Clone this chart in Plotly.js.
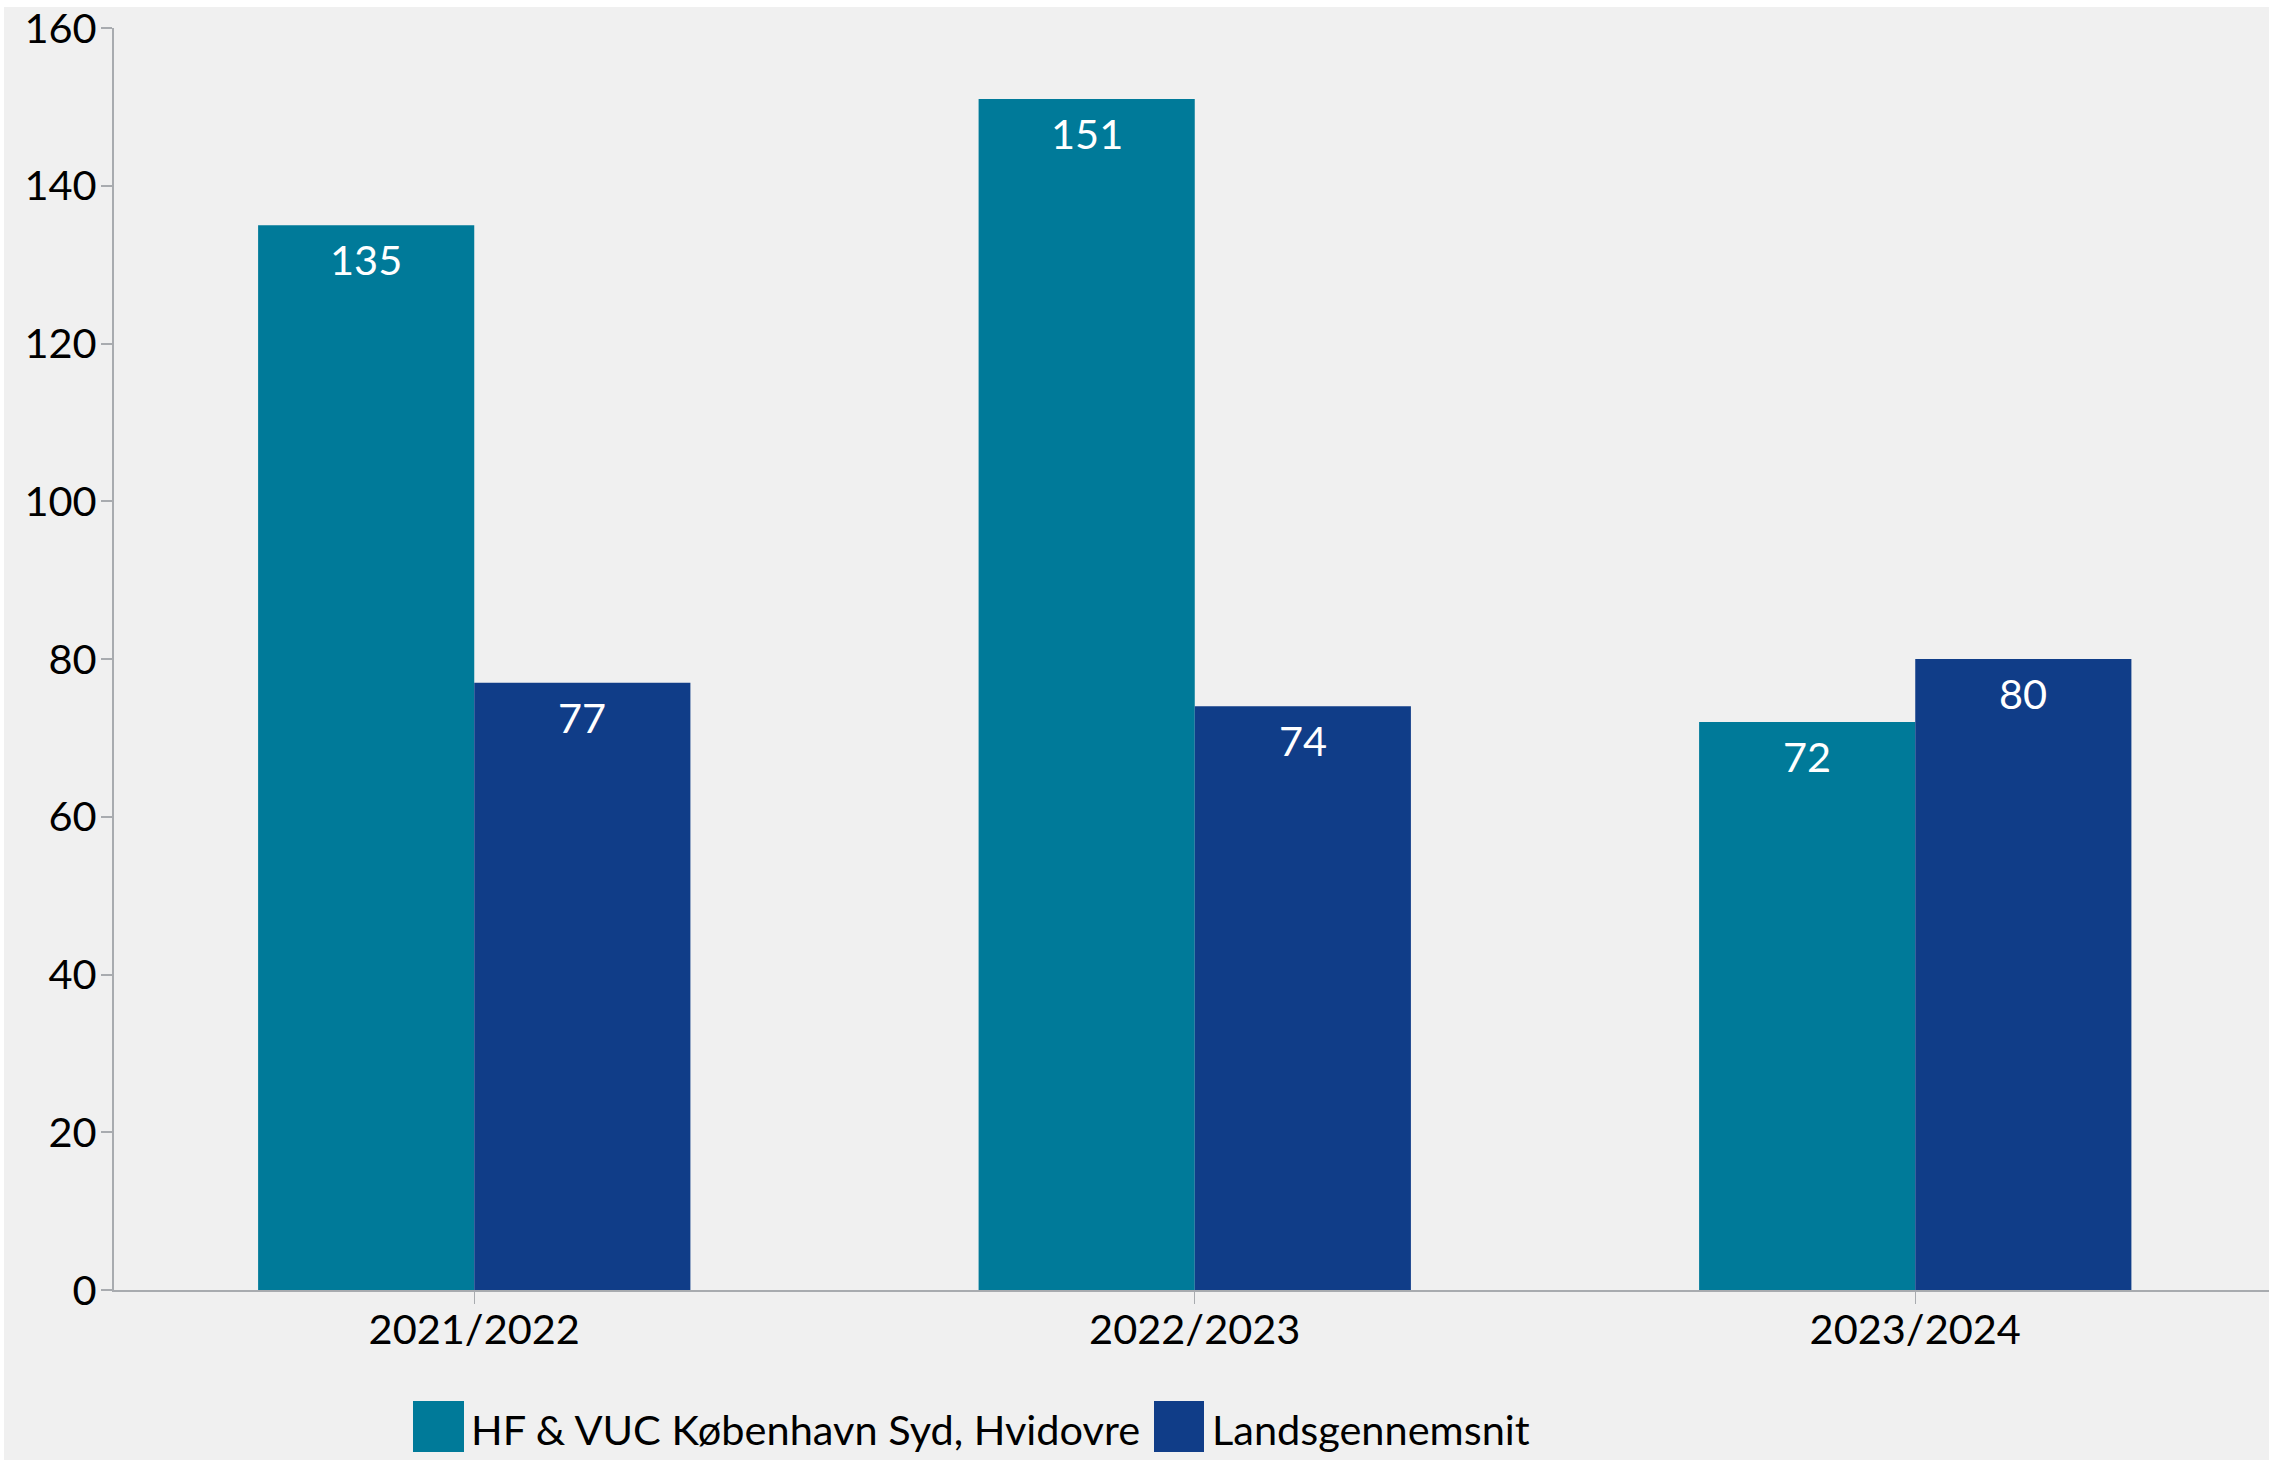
<!DOCTYPE html>
<html>
<head>
<meta charset="utf-8">
<script src="https://cdn.plot.ly/plotly-3.0.1.min.js"></script>
<style>
  html, body { margin: 0; padding: 0; background: #ffffff; }
  #chart { position: absolute; left: 0; top: 0; width: 2269px; height: 1460px; }
</style>
</head>
<body>
<div id="chart"></div>
<script>
const categories = ["2021/2022", "2022/2023", "2023/2024"];
const seriesNames = ["HF & VUC København Syd, Hvidovre", "Landsgennemsnit"];
const schoolValues = [135, 151, 72];
const nationalValues = [77, 74, 80];
const yTicks = [0, 20, 40, 60, 80, 100, 120, 140, 160];
const colors = ["#007a99", "#103d88"];

const W = 2269, H = 1460;
const M = { l: 114, r: 0, t: 28, b: 170 };
const plotW = W - M.l - M.r, plotH = H - M.t - M.b;
const px = x => (x - M.l) / plotW;
const py = y => (H - M.b - y) / plotH;

const font = "Lato, 'Open Sans', sans-serif";
const FS = 41.5;
const BARGAP = 0.4;

function barTrace(name, vals, color) {
  return {
    type: "bar", name: name, x: categories, y: vals,
    marker: { color: color, line: { width: 0 } },
    hoverinfo: "none", showlegend: false
  };
}

const series = [schoolValues, nationalValues];
const data = series.map((v, i) => barTrace(seriesNames[i], v, colors[i]));

// value labels inside bar tops, placed at each bar's own data position
const barW = (1 - BARGAP) / series.length;
const valueLabels = [];
series.forEach((vals, i) => {
  const off = -(1 - BARGAP) / 2 + barW * (i + 0.5);
  vals.forEach((v, j) => {
    valueLabels.push({
      xref: "x", yref: "y", x: j + off, y: v,
      xanchor: "center", yanchor: "top", yshift: -7, showarrow: false,
      text: String(v), font: { family: font, size: FS, color: "#ffffff" }
    });
  });
});

// legend drawn as shapes + text
const legendItems = [
  { sx0: 413, sx1: 464, tx: 469 },
  { sx0: 1154, sx1: 1204, tx: 1210 }
];
const ly0 = 1401, ly1 = 1452;
const shapes = legendItems.map((it, i) => ({
  type: "rect", xref: "paper", yref: "paper",
  x0: px(it.sx0), x1: px(it.sx1), y0: py(ly0), y1: py(ly1),
  fillcolor: colors[i], line: { width: 0 }
}));
// white frame strips at top and left edge of the picture
shapes.push({
  type: "rect", xref: "paper", yref: "paper", layer: "below",
  x0: px(0), x1: px(W), y0: py(0), y1: py(7),
  fillcolor: "#ffffff", line: { width: 0 }
});
shapes.push({
  type: "rect", xref: "paper", yref: "paper", layer: "below",
  x0: px(0), x1: px(4), y0: py(0), y1: py(H),
  fillcolor: "#ffffff", line: { width: 0 }
});
const legendText = legendItems.map((it, i) => ({
  xref: "paper", yref: "paper", x: px(it.tx), y: py((ly0 + ly1) / 2 + 2),
  xanchor: "left", yanchor: "middle", showarrow: false,
  text: seriesNames[i], font: { family: font, size: FS, color: "#000000" }
}));

const layout = {
  width: W, height: H,
  margin: M,
  paper_bgcolor: "#f0f0f0", plot_bgcolor: "#f0f0f0",
  barmode: "group", bargap: BARGAP, bargroupgap: 0,
  font: { family: font, size: FS, color: "#000000" },
  xaxis: {
    type: "category", range: [-0.5, -0.5 + plotW / 720.5],
    showline: true, linecolor: "#a8abaf", linewidth: 2,
    ticks: "outside", ticklen: 12, tickwidth: 1, tickcolor: "#a8abaf",
    tickson: "labels", ticklabelstandoff: -10,
    tickfont: { family: font, size: FS, color: "#000000" },
    showgrid: false, zeroline: false, fixedrange: true
  },
  yaxis: {
    range: [0, 160], tickvals: yTicks, ticktext: yTicks.map(String),
    showline: true, linecolor: "#a8abaf", linewidth: 2,
    ticks: "outside", ticklen: 11, tickwidth: 2, tickcolor: "#a8abaf",
    ticklabeloverflow: "allow", ticklabelstandoff: -4,
    tickfont: { family: font, size: FS, color: "#000000" },
    showgrid: false, zeroline: false, fixedrange: true
  },
  shapes: shapes,
  annotations: valueLabels.concat(legendText),
  showlegend: false
};

Plotly.newPlot("chart", data, layout, { displayModeBar: false, staticPlot: true });
</script>
</body>
</html>
